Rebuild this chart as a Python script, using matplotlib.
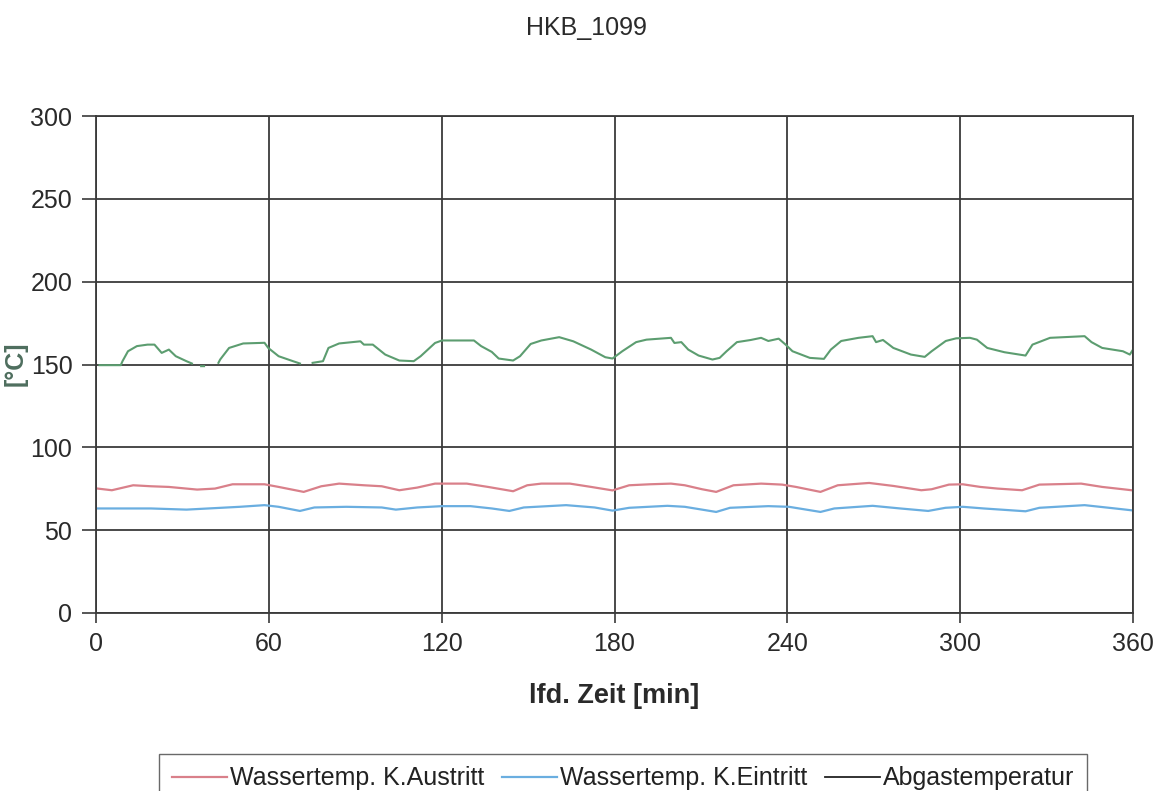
import numpy as np
import matplotlib
matplotlib.use("Agg")
import matplotlib.pyplot as plt
from matplotlib.lines import Line2D

plt.rcParams['font.family'] = ['Liberation Sans', 'DejaVu Sans']

title = "HKB_1099"
series_names = ["Wassertemp. K.Austritt", "Wassertemp. K.Eintritt", "Abgastemperatur"]
x_ticks = [0, 60, 120, 180, 240, 300, 360]
y_ticks = [0, 50, 100, 150, 200, 250, 300]

# Abgastemperatur (drawn green in the reference); NaN = gap in the record
abgas_t = [1.2, 8.6, 9.2, 11.1, 14.2, 17.9, 20.3, 22.8, 25.3, 27.7, 31.4, 33.3, 34.0,
           36.5, 37.5, 38.0,
           42.5, 43.1, 46.2, 51.1, 58.5, 59.8, 63.4, 68.4, 70.8, 72.5,
           75.2, 78.8, 80.7, 84.4, 91.8, 93.0, 96.1, 100.4, 105.3, 110.3, 112.7, 117.7,
           120.1, 125.0, 131.2, 133.7, 137.4, 139.8, 144.8, 147.2, 150.9, 154.6, 160.8,
           165.7, 171.9, 176.8, 179.3, 182.7, 187.5, 191.1, 199.6, 200.8, 203.2, 205.6,
           209.2, 214.0, 216.5, 218.9, 222.5, 227.3, 230.9, 233.4, 237.0, 239.4, 241.8,
           247.8, 252.7, 255.1, 258.7, 264.7, 269.6, 270.8, 273.2, 276.8, 282.9, 287.7,
           290.1, 295.0, 298.6, 303.4, 305.8, 309.4, 315.4, 322.7, 325.1, 331.2, 343.2,
           345.6, 349.3, 352.9, 356.5, 358.9, 360.0]
abgas_v = [149.6, 149.6, 152.0, 158.0, 161.1, 162.0, 162.0, 157.0, 159.0, 155.0, 152.0, 150.6, np.nan,
           149.0, 149.0, np.nan,
           151.0, 153.0, 160.0, 162.7, 163.1, 160.0, 155.0, 152.0, 150.6, np.nan,
           151.0, 152.0, 160.0, 162.7, 164.0, 162.0, 162.0, 156.0, 152.4, 152.0, 155.0, 163.0,
           164.5, 164.5, 164.5, 161.1, 157.6, 153.6, 152.4, 155.0, 162.4, 164.5, 166.5,
           164.0, 159.0, 154.4, 153.6, 158.0, 163.5, 165.0, 166.1, 163.0, 163.5, 159.0,
           155.4, 153.0, 154.0, 158.0, 163.5, 164.8, 166.1, 164.2, 165.6, 162.0, 158.0,
           154.0, 153.4, 159.0, 164.2, 166.1, 167.1, 163.5, 164.8, 160.0, 156.0, 154.6,
           158.0, 164.2, 165.8, 166.1, 165.0, 160.0, 157.4, 155.4, 162.0, 166.1, 167.1,
           163.5, 160.0, 159.0, 158.0, 156.0, 159.0]

# Wassertemp. K.Austritt (red)
aus_t = [0.6, 5.5, 12.9, 19.1, 25.3, 35.1, 41.3, 47.4, 58.5, 63.4, 72.1, 78.2, 84.4, 93.0,
         99.2, 105.3, 111.5, 117.7, 128.7, 136.1, 144.8, 149.7, 154.6, 164.5, 171.9, 179.3,
         185.1, 192.3, 199.6, 204.4, 210.4, 215.3, 221.3, 230.9, 238.2, 243.0, 251.5, 257.5,
         268.4, 276.8, 286.5, 290.1, 296.1, 300.9, 307.0, 313.0, 321.5, 327.5, 342.0, 349.3,
         356.5, 359.5]
aus_v = [75.1, 74.1, 77.1, 76.5, 76.1, 74.5, 75.1, 77.7, 77.7, 76.1, 73.1, 76.5, 78.1, 77.1,
         76.5, 74.1, 75.7, 78.1, 78.1, 76.1, 73.5, 77.1, 78.1, 78.1, 76.1, 74.0,
         77.1, 77.7, 78.1, 77.1, 74.7, 73.1, 77.1, 78.1, 77.5, 76.1, 73.1, 77.1,
         78.5, 76.7, 74.1, 74.7, 77.5, 77.7, 76.1, 75.1, 74.1, 77.5, 78.1, 76.1,
         74.7, 74.1]

# Wassertemp. K.Eintritt (blue)
ein_t = [0.6, 19.1, 31.4, 49.9, 58.5, 63.4, 70.8, 75.8, 86.9, 99.2, 104.1, 111.5, 120.1,
         130.0, 137.4, 143.5, 148.5, 163.2, 173.1, 179.3, 185.1, 198.4, 204.4, 215.3, 220.1,
         233.4, 240.6, 251.5, 256.3, 269.6, 279.2, 288.9, 294.9, 300.9, 308.2, 322.7, 327.5,
         343.2, 351.7, 359.5]
ein_v = [63.1, 63.1, 62.4, 64.1, 65.1, 64.1, 61.6, 63.7, 64.1, 63.7, 62.4, 63.7, 64.5,
         64.5, 63.1, 61.6, 63.7, 65.1, 63.7, 61.8, 63.5, 64.7, 64.1, 61.0, 63.5,
         64.5, 64.1, 61.0, 63.1, 64.7, 63.1, 61.6, 63.5, 64.1, 63.1, 61.4, 63.5,
         65.1, 63.5, 62.0]

col_aus = "#d9808a"
col_ein = "#6aaee0"
col_abgas = "#5c9d70"
grid_col = "#3a3a3a"

fig = plt.figure(figsize=(11.68, 7.91), dpi=100)
ax = fig.add_axes([96/1168, 1-613/791, (1133-96)/1168, (613-116)/791])

ax.plot(aus_t, aus_v, color=col_aus, lw=1.6)
ax.plot(ein_t, ein_v, color=col_ein, lw=1.6)
ax.plot(abgas_t, abgas_v, color=col_abgas, lw=1.5)

ax.set_xlim(0, 360)
ax.set_ylim(0, 300)
ax.set_xticks(x_ticks)
ax.set_yticks(y_ticks)
ax.grid(True, color=grid_col, lw=1.3)
ax.set_axisbelow(True)
for s in ax.spines.values():
    s.set_color(grid_col)
    s.set_linewidth(1.3)
ax.tick_params(axis='both', colors=grid_col, labelcolor="#2a2a2a", labelsize=18,
               width=1.2, direction='out')
ax.tick_params(axis='x', length=7, pad=7)
ax.tick_params(axis='y', length=10, pad=7)

ax.set_xlabel("lfd. Zeit [min]", fontsize=19.5, fontweight='bold', color="#2a2a2a", labelpad=19)
fig.text(16/1168, 1-364/791, "[°C]", rotation=90, fontsize=18, color="#4e6e5e",
         ha='center', va='center', fontweight='bold')
fig.text(586/1168, 1-28/791, title, fontsize=18, color="#2a2a2a", ha='center', va='center')

handles = [Line2D([], [], color=col_aus, lw=1.6),
           Line2D([], [], color=col_ein, lw=1.6),
           Line2D([], [], color="#222222", lw=1.3)]
leg = fig.legend(handles, series_names, loc='upper center', bbox_to_anchor=(623/1168, 1-754/791),
                 ncol=3, frameon=True, fancybox=False, fontsize=18, handlelength=2.2,
                 handletextpad=0.12, columnspacing=0.72, borderpad=0.5, borderaxespad=0)
leg.get_frame().set_edgecolor("#444444")
leg.get_frame().set_linewidth(1.0)
for t in leg.get_texts():
    t.set_color("#222222")

fig.savefig("out.png", dpi=100)
